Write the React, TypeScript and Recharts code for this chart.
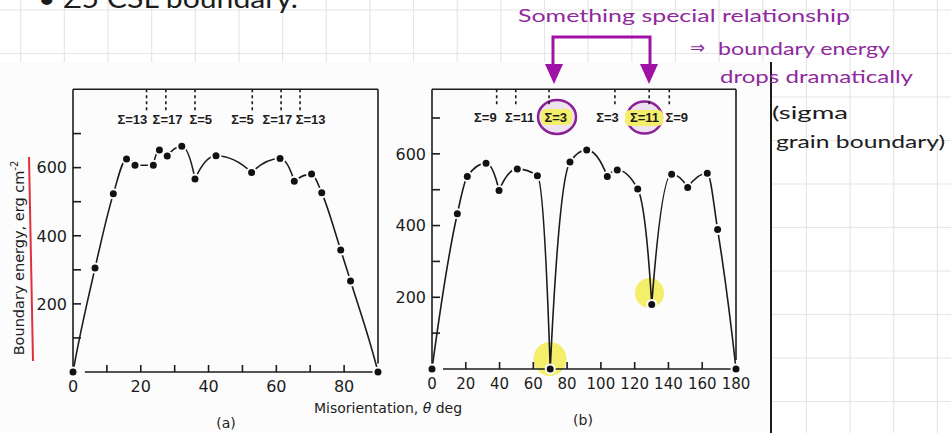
import React from 'react';
import { LineChart, Line, XAxis, YAxis, ReferenceLine, ReferenceDot } from 'recharts';

// (a) <100> tilt boundaries, misorientation 0-90 deg
const thetaA = [0, 6.5, 11.9, 15.8, 18.3, 23.7, 25.5, 27.8, 32.1, 36.0, 42.2, 52.7, 61.1, 65.3, 70.4, 73.4, 79.0, 81.9, 90];
const energyA = [0, 305, 523, 625, 607, 607, 652, 634, 663, 567, 635, 586, 627, 560, 581, 526, 358, 267, 0];

// (b) <110> tilt boundaries, misorientation 0-180 deg
const thetaB = [0, 15.0, 20.9, 32.0, 39.7, 50.5, 62.4, 70.0, 81.7, 91.6, 103.8, 109.7, 121.8, 130.1, 141.9, 151.4, 163.0, 169.1, 180];
const energyB = [0, 433, 537, 574, 498, 558, 539, 0, 577, 611, 537, 555, 502, 180, 543, 506, 546, 389, 0];

// coincidence-site markers along the top of each panel
const sigmaNamesA = ['Σ=13', 'Σ=17', 'Σ=5', 'Σ=5', 'Σ=17', 'Σ=13'];
const sigmaLinesA = [21.7, 27.4, 36.0, 52.9, 61.4, 67.0];
const sigmaTextA = [17.5, 27.9, 37.7, 50.0, 60.3, 70.1];

const sigmaNamesB = ['Σ=9', 'Σ=11', 'Σ=3', 'Σ=3', 'Σ=11', 'Σ=9'];
const sigmaLinesB = [38.3, 49.6, 69.3, 108.3, 128.6, 140.5];
const sigmaTextB = [31.6, 51.9, 73.3, 103.9, 125.8, 144.9];

const xTicksA = [0, 10, 20, 30, 40, 50, 60, 70, 80];
const xTicksB = [0, 20, 40, 60, 80, 100, 120, 140, 160, 180];
const yTicks = [100, 200, 300, 400, 500, 600, 700];

const rowsA = thetaA.map((t, i) => ({ theta: t, energy: energyA[i] }));
const rowsB = thetaB.map((t, i) => ({ theta: t, energy: energyB[i] }));

const INK = '#1c1c1c';
const FONT = '"DejaVu Sans", sans-serif';
const NARROW = '"Liberation Sans", Arial, sans-serif';
const HAND = 'Lato, "Noto Sans", sans-serif';
const PURPLE = '#a012a6';
const YELLOW = '#f4ee6a';

const topA = 830;
const topB = 780;

// hermite curve: flat at the maxima, sharp cusps at the minima
const cuspCurve = (context: any) => {
    let xs: number[] = [];
    let ys: number[] = [];
    return {
        areaStart() {},
        areaEnd() {},
        lineStart() { xs = []; ys = []; },
        point(x: number, y: number) { xs.push(+x); ys.push(+y); },
        lineEnd() {
            const n = xs.length;
            if (!n) return;
            context.moveTo(xs[0], ys[0]);
            if (n < 2) return;
            const s: number[] = [];
            for (let i = 0; i < n - 1; i++) s.push((ys[i + 1] - ys[i]) / ((xs[i + 1] - xs[i]) || 1));
            const tin = new Array(n).fill(0);
            const tout = new Array(n).fill(0);
            for (let i = 0; i < n; i++) {
                if (i === 0) { tout[0] = ys[0] > ys[1] ? 1.2 * s[0] : s[0]; continue; }
                if (i === n - 1) { tin[i] = ys[i] > ys[i - 1] ? 1.2 * s[i - 1] : s[i - 1]; continue; }
                const l = s[i - 1];
                const r = s[i];
                if (ys[i] >= ys[i - 1] && ys[i] >= ys[i + 1]) {
                    // energy minimum (lower on screen) -> cusp
                    tin[i] = 2 * l;
                    tout[i] = 2 * r;
                } else if (ys[i] <= ys[i - 1] && ys[i] <= ys[i + 1]) {
                    tin[i] = 0;
                    tout[i] = 0;
                } else {
                    const h0 = xs[i] - xs[i - 1];
                    const h1 = xs[i + 1] - xs[i];
                    const p = (l * h1 + r * h0) / (h0 + h1);
                    const m = (Math.sign(l) + Math.sign(r)) * Math.min(Math.abs(l), Math.abs(r), 0.5 * Math.abs(p)) || 0;
                    tin[i] = m;
                    tout[i] = m;
                }
            }
            for (let i = 0; i < n - 1; i++) {
                const dx = xs[i + 1] - xs[i];
                context.bezierCurveTo(
                    xs[i] + dx / 3, ys[i] + tout[i] * dx / 3,
                    xs[i + 1] - dx / 3, ys[i + 1] - tin[i + 1] * dx / 3,
                    xs[i + 1], ys[i + 1]
                );
            }
        },
    };
};

const makeXTick = (fontSize: number, hasMark: (v: number) => boolean, hasLabel: (v: number) => boolean) => (props: any) => {
    const { x, y, payload } = props;
    const v = payload.value;
    return (
        <g>
            {hasMark(v) && <line x1={x} y1={y} x2={x} y2={y - 7} stroke={INK} strokeWidth={1.6} />}
            {hasLabel(v) && (
                <text x={x} y={y + 20} textAnchor="middle" fontSize={fontSize} fill={INK} fontFamily={FONT}>{v}</text>
            )}
        </g>
    );
};

const YTick = (props: any) => {
    const { x, y, payload } = props;
    const v = payload.value;
    return (
        <g>
            <line x1={x} y1={y} x2={x + 8} y2={y} stroke={INK} strokeWidth={1.6} />
            {v % 200 === 0 && (
                <text x={x - 6} y={y} dy="0.36em" textAnchor="end" fontSize={16} fill={INK} fontFamily={FONT}>{v}</text>
            )}
        </g>
    );
};

// text drawn at the reference dot's centre
const sigmaShape = (name: string) => (p: any) => (
    <text x={p.cx} y={p.cy} dy="0.36em" textAnchor="middle" fontSize={13} fontWeight={700} fill={INK} fontFamily={NARROW}>
        {name}
    </text>
);

const dotStyle = { r: 4.5, fill: '#111', stroke: '#fcfcfc', strokeWidth: 2 };

const PanelA = () => (
    <LineChart width={400} height={373} data={rowsA} margin={{ top: 29.3, right: 22, bottom: 31, left: 25 }}>
        <XAxis
            dataKey="theta"
            type="number"
            domain={[0, 90]}
            ticks={xTicksA}
            interval={0}
            axisLine={false}
            tickLine={false}
            tickSize={0}
            tickMargin={0}
            height={30}
            tick={makeXTick(16, (v) => v > 0, (v) => v % 20 === 0)}
        />
        <YAxis
            type="number"
            domain={[0, topA]}
            ticks={yTicks}
            interval={0}
            width={48}
            axisLine={{ stroke: INK, strokeWidth: 1.6 }}
            tickLine={false}
            tickSize={0}
            tickMargin={0}
            tick={YTick}
        />
        <ReferenceLine y={topA} stroke={INK} strokeWidth={1.6} />
        <ReferenceLine segment={[{ x: 90, y: 25 }, { x: 90, y: topA }]} stroke={INK} strokeWidth={1.6} />
        <ReferenceLine segment={[{ x: 3.5, y: 0 }, { x: 90, y: 0 }]} stroke={INK} strokeWidth={1.6} />
        {sigmaLinesA.map((s, i) => (
            <ReferenceLine key={'la' + i} segment={[{ x: s, y: topA }, { x: s, y: 760 }]} stroke={INK} strokeWidth={1.6} strokeDasharray="3 3" />
        ))}
        {sigmaNamesA.map((name, i) => (
            <ReferenceDot key={'ta' + i} x={sigmaTextA[i]} y={743} r={1} shape={sigmaShape(name)} />
        ))}
        <Line
            dataKey="energy"
            type={cuspCurve as any}
            stroke={INK}
            strokeWidth={1.6}
            dot={dotStyle}
            activeDot={false}
            isAnimationActive={false}
        />
    </LineChart>
);

const PanelB = () => (
    <LineChart width={391} height={373} data={rowsB} margin={{ top: 29.3, right: 35, bottom: 34, left: 12 }}>
        <XAxis
            dataKey="theta"
            type="number"
            domain={[0, 180]}
            ticks={xTicksB}
            interval={0}
            axisLine={false}
            tickLine={false}
            tickSize={0}
            tickMargin={0}
            height={30}
            tick={makeXTick(15, (v) => v > 0 && v < 180, () => true)}
        />
        <YAxis
            type="number"
            domain={[0, topB]}
            ticks={yTicks}
            interval={0}
            width={40}
            axisLine={{ stroke: INK, strokeWidth: 1.6 }}
            tickLine={false}
            tickSize={0}
            tickMargin={0}
            tick={YTick}
        />
        <ReferenceLine y={topB} stroke={INK} strokeWidth={1.6} />
        <ReferenceLine segment={[{ x: 180, y: 25 }, { x: 180, y: topB }]} stroke={INK} strokeWidth={1.6} />
        <ReferenceLine segment={[{ x: 6.5, y: 0 }, { x: 180, y: 0 }]} stroke={INK} strokeWidth={1.6} />
        {sigmaLinesB.map((s, i) => (
            <ReferenceLine key={'lb' + i} segment={[{ x: s, y: topB }, { x: s, y: 731 }]} stroke={INK} strokeWidth={1.6} strokeDasharray="3 3" />
        ))}
        {sigmaNamesB.map((name, i) => (
            <ReferenceDot key={'tb' + i} x={sigmaTextB[i]} y={702} r={1} shape={sigmaShape(name)} />
        ))}
        <Line
            dataKey="energy"
            type={cuspCurve as any}
            stroke={INK}
            strokeWidth={1.6}
            dot={dotStyle}
            activeDot={false}
            isAnimationActive={false}
        />
    </LineChart>
);

export default function App() {
    const gridX = Array.from({ length: 22 }, (_, k) => 20.7 + 43.65 * k);
    const gridY = Array.from({ length: 10 }, (_, k) => 10 + 43.5 * k);

    return (
        <div style={{ position: 'absolute', left: 0, top: 0, width: 951, height: 433, overflow: 'hidden', background: '#fff' }}>
            {/* notebook paper, scanned figure backdrop and highlighter marks under the ink */}
            <svg width={951} height={433} style={{ position: 'absolute', left: 0, top: 0 }}>
                {gridX.map((x) => <line key={'gx' + x} x1={x} y1={0} x2={x} y2={433} stroke="#e6e6e6" strokeWidth={1.2} />)}
                {gridY.map((y) => <line key={'gy' + y} x1={0} y1={y} x2={951} y2={y} stroke="#e6e6e6" strokeWidth={1.2} />)}
                <rect x={0} y={62} width={771} height={371} fill="#fcfcfc" />
                <ellipse cx={557} cy={117} rx={19} ry={17} fill="#eee2f0" stroke="#8a2296" strokeWidth={2.5} />
                <ellipse cx={644.5} cy={117.5} rx={17.5} ry={16} fill="#eee2f0" stroke="#8a2296" strokeWidth={2.5} />
                <rect x={541} y={109} width={31} height={16} rx={5} fill={YELLOW} />
                <rect x={625} y={110} width={38} height={16} rx={5} fill={YELLOW} />
                <ellipse cx={550} cy={359} rx={16.5} ry={17} fill={YELLOW} />
                <ellipse cx={649.5} cy={293} rx={14.5} ry={15} fill={YELLOW} />
            </svg>

            <div style={{ position: 'absolute', left: 0, top: 60 }}>
                <PanelA />
            </div>
            <div style={{ position: 'absolute', left: 380, top: 60 }}>
                <PanelB />
            </div>

            {/* titles and handwritten notes */}
            <svg width={951} height={433} style={{ position: 'absolute', left: 0, top: 0, pointerEvents: 'none' }}>
                <text transform="translate(24,258) rotate(-90)" textAnchor="middle" fontSize={14.5} fill={INK} fontFamily={FONT}>
                    Boundary energy, erg cm<tspan dy={-6} fontSize={10}>-2</tspan>
                </text>
                <line x1={29} y1={157} x2={33} y2={361} stroke="#e0313b" strokeWidth={2} />
                <text x={388} y={413} textAnchor="middle" fontSize={14} fill={INK} fontFamily={FONT}>
                    Misorientation, <tspan fontStyle="italic">θ</tspan> deg
                </text>
                <text x={226} y={428} textAnchor="middle" fontSize={14} fill={INK} fontFamily={FONT}>(a)</text>
                <text x={583} y={425} textAnchor="middle" fontSize={14} fill={INK} fontFamily={FONT}>(b)</text>

                <line x1={771} y1={62} x2={771} y2={433} stroke={INK} strokeWidth={2} />

                <text x={38} y={8} fontSize={26} fill={INK} fontFamily={HAND} textLength={260} lengthAdjust="spacingAndGlyphs">• Σ5 CSL boundary.</text>

                <path d="M553,66 L553,37 L650,37 L650,66" fill="none" stroke={PURPLE} strokeWidth={3} />
                <polygon points="545,64 563,64 554,84" fill={PURPLE} />
                <polygon points="640,64 658,64 649,84" fill={PURPLE} />
                <text x={518} y={22} fontSize={18} fill="#8f2a9c" fontFamily={HAND} textLength={332} lengthAdjust="spacingAndGlyphs">Something special relationship</text>
                <text x={690} y={54} fontSize={18} fill="#8f2a9c" fontFamily={FONT}>⇒</text>
                <text x={718} y={55} fontSize={18} fill="#8f2a9c" fontFamily={HAND} textLength={172} lengthAdjust="spacingAndGlyphs">boundary energy</text>
                <text x={720} y={83} fontSize={18} fill="#8f2a9c" fontFamily={HAND} textLength={193} lengthAdjust="spacingAndGlyphs">drops dramatically</text>

                <text x={772} y={119} fontSize={18} fill={INK} fontFamily={HAND} textLength={76} lengthAdjust="spacingAndGlyphs">(sigma</text>
                <text x={776} y={148} fontSize={18} fill={INK} fontFamily={HAND} textLength={169} lengthAdjust="spacingAndGlyphs">grain boundary)</text>
            </svg>
        </div>
    );
}
